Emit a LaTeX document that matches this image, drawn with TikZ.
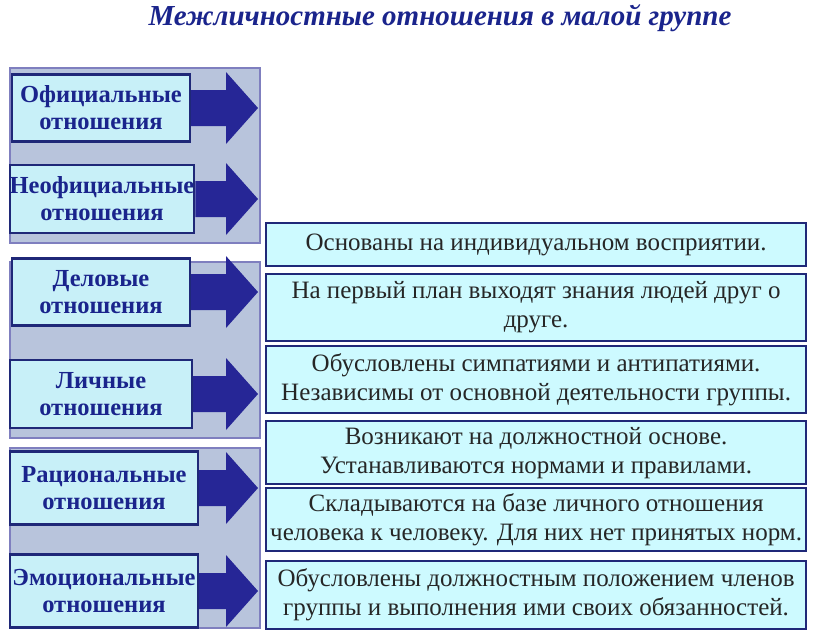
\documentclass[tikz,border=0pt]{standalone}
\usepackage{fontspec}
\setmainfont{Liberation Serif}
\usetikzlibrary{positioning, calc}
\definecolor{panelgray}{RGB}{184,196,220}
\definecolor{paneledge}{RGB}{127,127,191}
\definecolor{lightcyan}{RGB}{200,240,248}
\definecolor{palecyan}{RGB}{205,250,255}
\definecolor{navyblue}{RGB}{31,40,120}
\definecolor{arrowblue}{RGB}{38,38,150}
\definecolor{titleblue}{RGB}{26,36,140}
\tikzset{
  panel/.style={fill=panelgray, draw=paneledge, line width=1.5pt},
  kindbox/.style={fill=lightcyan, draw=navyblue, line width=2.2pt, align=center,
    font=\fontsize{24.5}{27}\selectfont\bfseries, text=titleblue, inner sep=0pt},
  notebox/.style={fill=palecyan, draw=navyblue, line width=2.2pt, align=center,
    font=\fontsize{25}{29}\selectfont, text=black!85, inner sep=0pt,
    minimum width=540pt, anchor=north west}
}
\newcommand{\fatarrow}[2]{% from node #1 to x = #2
  \fill[arrowblue] let \p1=(#1.east) in
    (\x1,\y1-18) -- (#2-32,\y1-18) -- (#2-32,\y1-36) -- (#2,\y1)
    -- (#2-32,\y1+36) -- (#2-32,\y1+18) -- (\x1,\y1+18) -- cycle;}
\begin{document}
\begin{tikzpicture}[x=1pt,y=-1pt]
    \useasboundingbox (0,0) rectangle (825,630);
    % Title
    \node[font=\fontsize{29}{32}\selectfont\bfseries\itshape, text=titleblue] (title) at (440,18)
        {Межличностные отношения в малой группе};

    % Panels
    \draw[panel] (10,68) rectangle (260,243);
    \draw[panel] (10,262) rectangle (260,438);
    \draw[panel] (10,448) rectangle (260,628);

    % Kinds of relations
    \node[kindbox, minimum width=178pt, minimum height=67pt] (official) at (101,108) {Официальные\\отношения};
    \node[kindbox, minimum width=181pt, minimum height=68pt] (unofficial) at (102,199) {Неофициальные\\отношения};
    \node[kindbox, minimum width=178pt, minimum height=67pt] (business) at (101,292) {Деловые\\отношения};
    \node[kindbox, minimum width=182pt, minimum height=68pt] (personal) at (101,394) {Личные\\отношения};
    \node[kindbox, minimum width=188pt, minimum height=73pt] (rational) at (104,488) {Рациональные\\отношения};
    \node[kindbox, minimum width=188pt, minimum height=73pt] (emotional) at (104,591) {Эмоциональные\\отношения};

    % Arrows
    \foreach \k in {official,unofficial,business,personal,rational,emotional}
        {\fatarrow{\k}{258pt}}

    % Descriptions
    \node[notebox, minimum height=43pt] (noteA) at (265,222) {Основаны на индивидуальном восприятии.};
    \node[notebox, minimum height=67pt] (noteB) at (265,273) {На первый план выходят знания людей друг о\\друге.};
    \node[notebox, minimum height=67pt] (noteC) at (265,345) {Обусловлены симпатиями и антипатиями.\\Независимы от основной деятельности группы.};
    \node[notebox, minimum height=63pt] (noteD) at (265,420) {Возникают на должностной основе.\\Устанавливаются нормами и правилами.};
    \node[notebox, minimum height=63pt] (noteE) at (265,487) {Складываются на базе личного отношения\\человека к человеку. Для них нет принятых норм.};
    \node[notebox, minimum height=68pt] (noteF) at (265,560) {Обусловлены должностным положением членов\\группы и выполнения ими своих обязанностей.};
\end{tikzpicture}
\end{document}
